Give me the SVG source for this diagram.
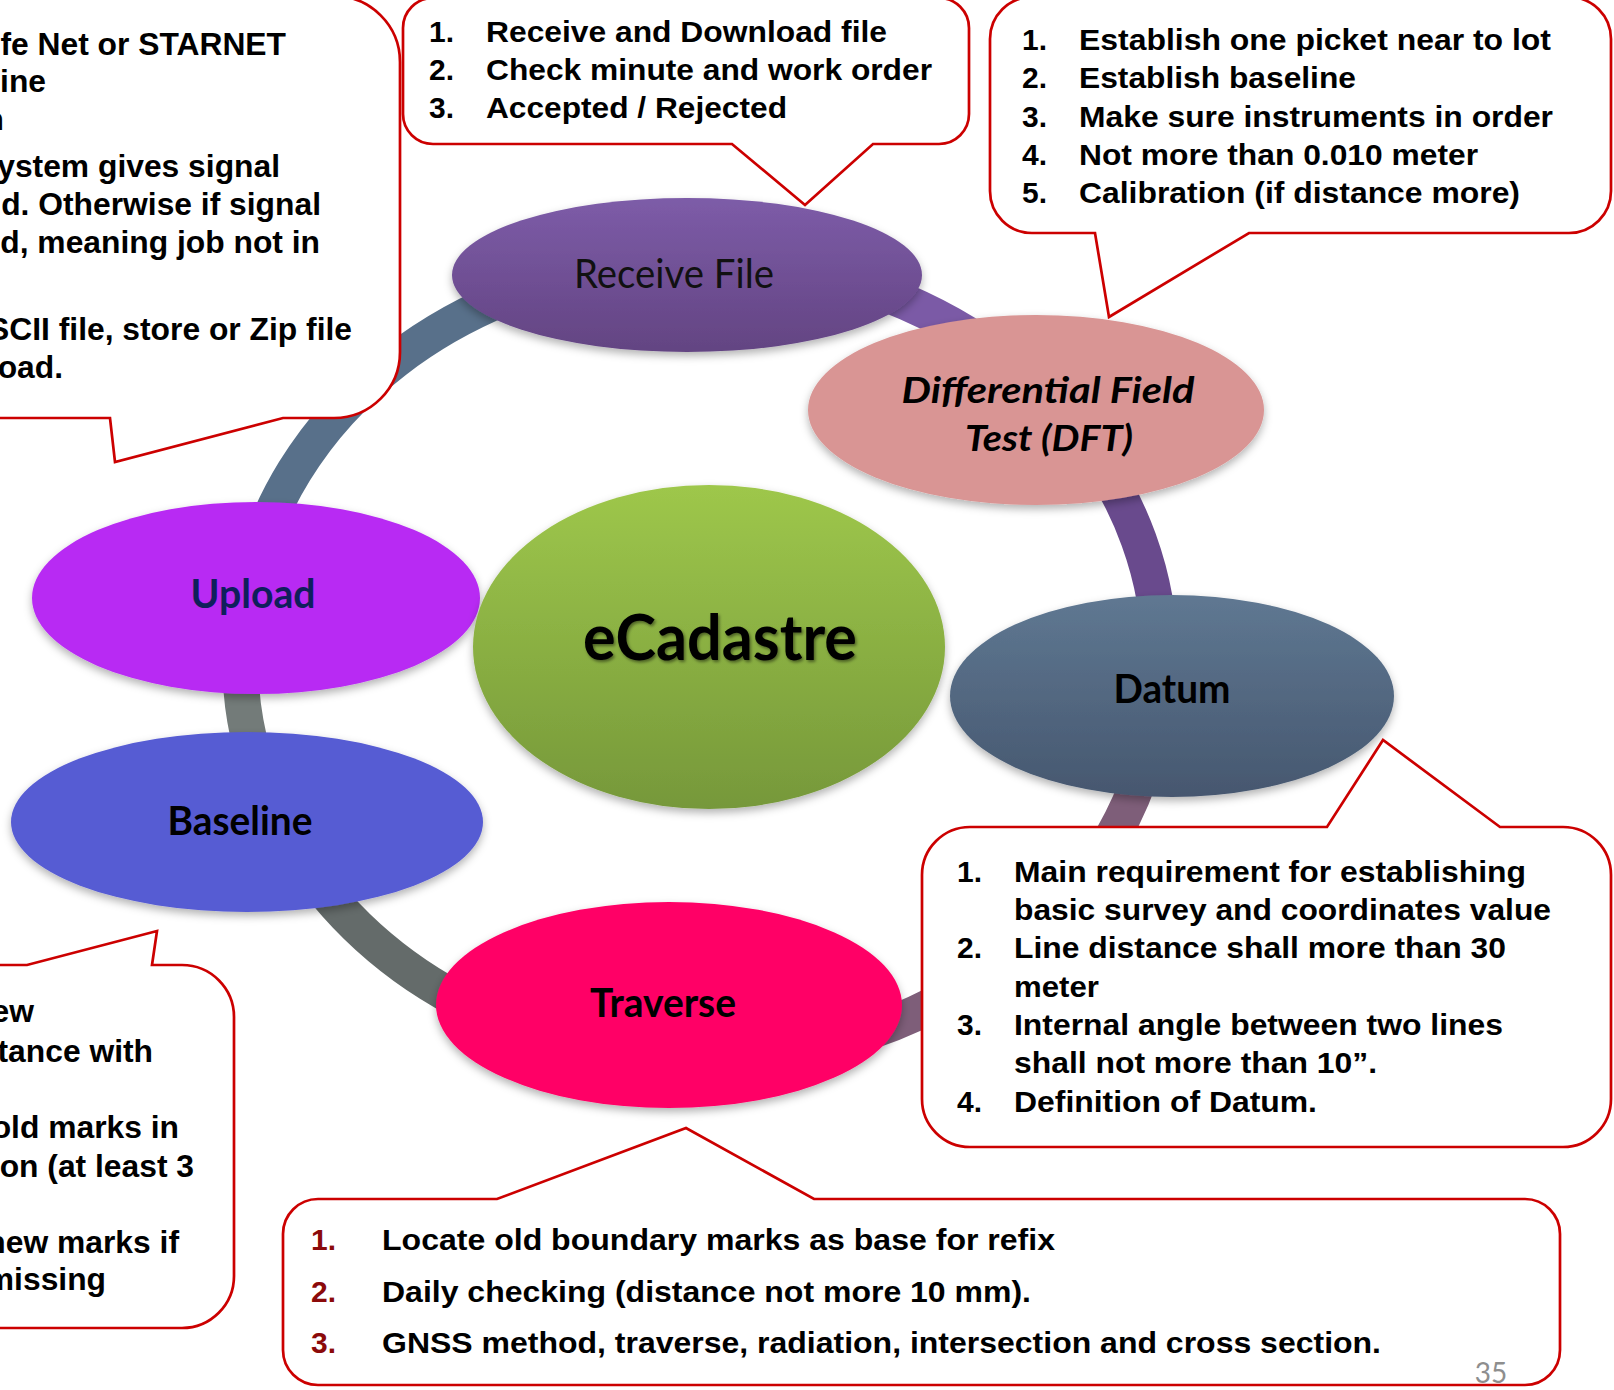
<svg xmlns="http://www.w3.org/2000/svg" width="1614" height="1390" viewBox="0 0 1614 1390">
  <defs>
    <style>
      .ring { fill: none; stroke-width: 36; }
      .co { fill: #ffffff; stroke: #cc0000; stroke-width: 2.7; stroke-linejoin: miter; }
      .ct { font-family: "Liberation Sans", Arial, sans-serif; font-weight: bold; font-size: 30px; fill: #000000; }
      .cl { font-family: "Liberation Sans", Arial, sans-serif; font-weight: bold; font-size: 31.8px; fill: #000000; text-anchor: end; }
      .num { fill: #8b0a0a; }
      .nl { font-family: Lato, "Open Sans", sans-serif; font-weight: bold; font-size: 41px; fill: #000000; text-anchor: middle; }
    </style>
    <linearGradient id="gRecv" x1="0" y1="0" x2="0" y2="1">
      <stop offset="0" stop-color="#7d5ca8"/>
      <stop offset="1" stop-color="#634482"/>
    </linearGradient>
    <linearGradient id="gEcad" x1="0" y1="0" x2="0" y2="1">
      <stop offset="0" stop-color="#9ec74b"/>
      <stop offset="1" stop-color="#76983a"/>
    </linearGradient>
    <linearGradient id="gDatum" x1="0" y1="0" x2="0" y2="1">
      <stop offset="0" stop-color="#5f7892"/>
      <stop offset="1" stop-color="#46576f"/>
    </linearGradient>
    <filter id="sh" x="-10%" y="-10%" width="120%" height="130%">
      <feDropShadow dx="0" dy="4" stdDeviation="4" flood-color="#000000" flood-opacity="0.3"/>
    </filter>
    <filter id="ts" x="-5%" y="-20%" width="110%" height="140%">
      <feDropShadow dx="1.5" dy="2" stdDeviation="1.5" flood-color="#000000" flood-opacity="0.45"/>
    </filter>
  </defs>

  <rect x="0" y="0" width="1614" height="1390" fill="#ffffff"/>

  <g id="connectors">
    <path class="ring" stroke="#7b5aa6" d="M683.9,260.2 A460,400 0 0 1 1052.4,402.9"/>
    <path class="ring" stroke="#694a8d" d="M1052.4,402.9 A460,400 0 0 1 1158.2,694.9"/>
    <path class="ring" stroke="#7e5e79" d="M1158.2,694.9 A460,400 0 0 1 667.9,1059"/>
    <path class="ring" stroke="#646b6a" d="M667.9,1059 A460,400 0 0 1 273.5,809.8"/>
    <path class="ring" stroke="#737b79" d="M273.5,809.8 A460,400 0 0 1 245.7,597.4"/>
    <path class="ring" stroke="#58708a" d="M245.7,597.4 A460,400 0 0 1 683.9,260.2"/>
  </g>

  <g id="node-receive-file">
    <ellipse cx="687" cy="275" rx="235" ry="77" fill="url(#gRecv)" filter="url(#sh)"/>
    <text x="674" y="288" font-family="Lato, 'Open Sans', sans-serif" font-size="40" fill="#111111" text-anchor="middle" textLength="200" lengthAdjust="spacingAndGlyphs">Receive File</text>
  </g>

  <g id="node-dft">
    <ellipse cx="1036" cy="410" rx="228" ry="95" fill="#d99594" filter="url(#sh)"/>
    <text class="nl" x="1048" y="403" style="font-size:37px;font-style:italic" textLength="293" lengthAdjust="spacingAndGlyphs">Differential Field</text>
    <text class="nl" x="1049" y="451" style="font-size:37px;font-style:italic" textLength="168" lengthAdjust="spacingAndGlyphs">Test (DFT)</text>
  </g>

  <g id="node-upload">
    <ellipse cx="256" cy="598" rx="224" ry="96" fill="#b82cf3" filter="url(#sh)"/>
    <text class="nl" x="253" y="608" style="fill:#0f1f5c" textLength="125" lengthAdjust="spacingAndGlyphs">Upload</text>
  </g>

  <g id="node-baseline">
    <ellipse cx="247" cy="822" rx="236" ry="90" fill="#565bd3" filter="url(#sh)"/>
    <text class="nl" x="240" y="835" textLength="145" lengthAdjust="spacingAndGlyphs">Baseline</text>
  </g>

  <g id="node-ecadastre">
    <ellipse cx="709" cy="647" rx="236" ry="162" fill="url(#gEcad)" filter="url(#sh)"/>
    <text class="nl" x="720" y="660" style="font-size:64px" filter="url(#ts)" textLength="274" lengthAdjust="spacingAndGlyphs">eCadastre</text>
  </g>

  <g id="node-datum">
    <ellipse cx="1172" cy="696" rx="222" ry="101" fill="url(#gDatum)" filter="url(#sh)"/>
    <text class="nl" x="1172" y="703" textLength="117" lengthAdjust="spacingAndGlyphs">Datum</text>
  </g>

  <g id="node-traverse">
    <ellipse cx="669" cy="1005" rx="233" ry="103" fill="#ff0066" filter="url(#sh)"/>
    <text class="nl" x="663" y="1017" textLength="146" lengthAdjust="spacingAndGlyphs">Traverse</text>
  </g>

  <g id="callout-upload">
    <path class="co" d="M-80,-4 H334 A66,66 0 0 1 400,62 V352 A66,66 0 0 1 334,418 H283 L115,462 L110,418 H-80 Z"/>
    <text class="cl" x="286" y="55">fe Net or STARNET</text>
    <text class="cl" x="46" y="92">ine</text>
    <text class="cl" x="4" y="130">n</text>
    <text class="cl" x="280" y="177">ystem gives signal</text>
    <text class="cl" x="321" y="215">d. Otherwise if signal</text>
    <text class="cl" x="320" y="253">d, meaning job not in</text>
    <text class="cl" x="352" y="340">SCII file, store or Zip file</text>
    <text class="cl" x="63" y="378">oad.</text>
  </g>

  <g id="callout-receive">
    <path class="co" d="M433,-2 H939 A30,30 0 0 1 969,28 V114 A30,30 0 0 1 939,144 H873 L805,205 L732,144 H433 A30,30 0 0 1 403,114 V28 A30,30 0 0 1 433,-2 Z"/>
    <text class="ct" x="429" y="42">1.</text>
    <text class="ct" x="486" y="42" textLength="401" lengthAdjust="spacingAndGlyphs">Receive and Download file</text>
    <text class="ct" x="429" y="80">2.</text>
    <text class="ct" x="486" y="80" textLength="446" lengthAdjust="spacingAndGlyphs">Check minute and work order</text>
    <text class="ct" x="429" y="118">3.</text>
    <text class="ct" x="486" y="118" textLength="301" lengthAdjust="spacingAndGlyphs">Accepted / Rejected</text>
  </g>

  <g id="callout-dft">
    <path class="co" d="M1032,-3 H1569 A42,42 0 0 1 1611,39 V191 A42,42 0 0 1 1569,233 H1249 L1109,317 L1095,233 H1032 A42,42 0 0 1 990,191 V39 A42,42 0 0 1 1032,-3 Z"/>
    <text class="ct" x="1022" y="50">1.</text>
    <text class="ct" x="1079" y="50" textLength="472" lengthAdjust="spacingAndGlyphs">Establish one picket near to lot</text>
    <text class="ct" x="1022" y="88">2.</text>
    <text class="ct" x="1079" y="88" textLength="277" lengthAdjust="spacingAndGlyphs">Establish baseline</text>
    <text class="ct" x="1022" y="127">3.</text>
    <text class="ct" x="1079" y="127" textLength="474" lengthAdjust="spacingAndGlyphs">Make sure instruments in order</text>
    <text class="ct" x="1022" y="165">4.</text>
    <text class="ct" x="1079" y="165" textLength="399" lengthAdjust="spacingAndGlyphs">Not more than 0.010 meter</text>
    <text class="ct" x="1022" y="203">5.</text>
    <text class="ct" x="1079" y="203" textLength="441" lengthAdjust="spacingAndGlyphs">Calibration (if distance more)</text>
  </g>

  <g id="callout-datum">
    <path class="co" d="M970,827 H1327 L1383,740 L1500,827 H1563 A48,48 0 0 1 1611,875 V1099 A48,48 0 0 1 1563,1147 H970 A48,48 0 0 1 922,1099 V875 A48,48 0 0 1 970,827 Z"/>
    <text class="ct" x="957" y="882">1.</text>
    <text class="ct" x="1014" y="882" textLength="512" lengthAdjust="spacingAndGlyphs">Main requirement for establishing</text>
    <text class="ct" x="1014" y="920" textLength="537" lengthAdjust="spacingAndGlyphs">basic survey and coordinates value</text>
    <text class="ct" x="957" y="958">2.</text>
    <text class="ct" x="1014" y="958" textLength="492" lengthAdjust="spacingAndGlyphs">Line distance shall more than 30</text>
    <text class="ct" x="1014" y="997" textLength="85" lengthAdjust="spacingAndGlyphs">meter</text>
    <text class="ct" x="957" y="1035">3.</text>
    <text class="ct" x="1014" y="1035" textLength="489" lengthAdjust="spacingAndGlyphs">Internal angle between two lines</text>
    <text class="ct" x="1014" y="1073" textLength="363" lengthAdjust="spacingAndGlyphs">shall not more than 10”.</text>
    <text class="ct" x="957" y="1112">4.</text>
    <text class="ct" x="1014" y="1112" textLength="303" lengthAdjust="spacingAndGlyphs">Definition of Datum.</text>
  </g>

  <g id="callout-traverse">
    <path class="co" d="M318,1199 H497 L686,1128 L814,1199 H1525 A35,35 0 0 1 1560,1234 V1350 A35,35 0 0 1 1525,1385 H318 A35,35 0 0 1 283,1350 V1234 A35,35 0 0 1 318,1199 Z"/>
    <text class="ct num" x="311" y="1250">1.</text>
    <text class="ct" x="382" y="1250" textLength="673" lengthAdjust="spacingAndGlyphs">Locate old boundary marks as base for refix</text>
    <text class="ct num" x="311" y="1302">2.</text>
    <text class="ct" x="382" y="1302" textLength="649" lengthAdjust="spacingAndGlyphs">Daily checking (distance not more 10 mm).</text>
    <text class="ct num" x="311" y="1353">3.</text>
    <text class="ct" x="382" y="1353" textLength="999" lengthAdjust="spacingAndGlyphs">GNSS method, traverse, radiation, intersection and cross section.</text>
    <text x="1491" y="1383" font-family="Lato, 'Open Sans', sans-serif" font-size="28" fill="#8e8e8e" text-anchor="middle">35</text>
  </g>

  <g id="callout-baseline">
    <path class="co" d="M-80,965 H27 L157,931 L152,965 H182 A52,52 0 0 1 234,1017 V1276 A52,52 0 0 1 182,1328 H-80 Z"/>
    <text class="cl" x="34" y="1022">ew</text>
    <text class="cl" x="153" y="1062">tance with</text>
    <text class="cl" x="179" y="1138">old marks in</text>
    <text class="cl" x="194" y="1177">on (at least 3</text>
    <text class="cl" x="179" y="1253">new marks if</text>
    <text class="cl" x="106" y="1290">missing</text>
  </g>
</svg>
